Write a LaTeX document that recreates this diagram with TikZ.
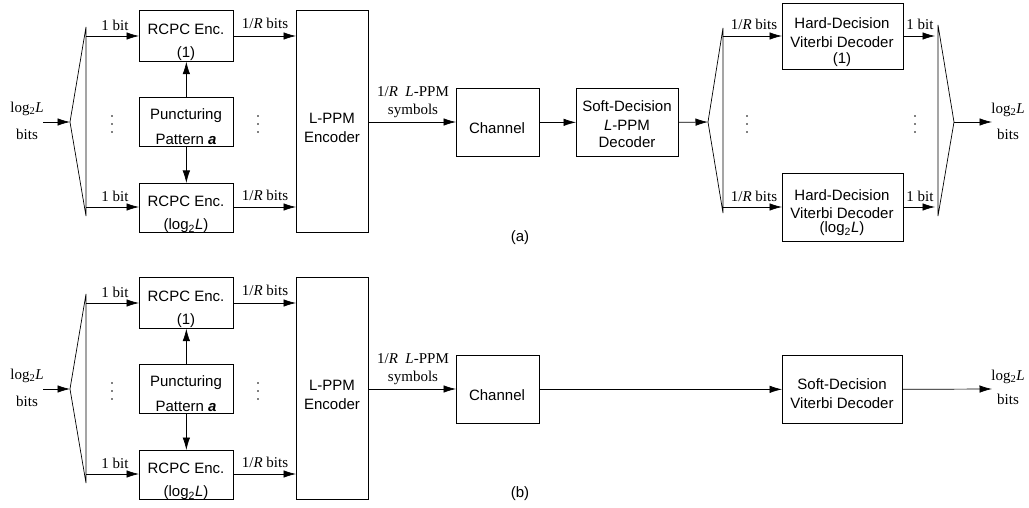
\documentclass[tikz,border=0pt]{standalone}
\usepackage{fontspec}
\setmainfont{Liberation Serif}
\newfontfamily\arialf{Liberation Sans}
\usetikzlibrary{arrows.meta}
\tikzset{
  box/.style={draw, line width=0.7pt, inner sep=0pt, anchor=north west},
  sf/.style={font=\arialf\fontsize{15}{18}\selectfont, inner sep=0pt, anchor=center},
  rm/.style={font=\fontsize{15}{18}\selectfont, inner sep=0pt, anchor=center},
  arr/.style={line width=0.7pt, -{Latex[length=12.5pt,width=7.5pt]}},
  ln/.style={line width=0.7pt},
  dotc/.style={fill, circle, inner sep=0pt, minimum size=1.8pt}
}
\newcommand\mkbox[5]{% name, x1, y1, x2, y2
  \node[box, minimum width={(#4)-(#2)}, minimum height={(#5)-(#3)}] (#1) at (#2,{#3}) {};}
\newcommand\vdotsat[3]{% name, x, y
  \node[dotc] (#1a) at (#2,{#3-8}) {};
  \node[dotc] (#1b) at (#2,{#3}) {};
  \node[dotc] (#1c) at (#2,{#3+8}) {};}
\newcommand\leftpart[2]{% prefix, y offset
  % input and splitter
  \coordinate (#1in) at (43,{#2+122});
  \coordinate (#1apex) at (70,{#2+122});
  \coordinate (#1st) at (86,{#2+27});
  \coordinate (#1sb) at (86,{#2+216});
  \coordinate (#1b1) at (86,{#2+36});
  \coordinate (#1b2) at (86,{#2+207});
  \node[rm] (#1inl1) at (27,{#2+109}) {log\textsubscript{2}\textit{L}};
  \node[rm] (#1inl2) at (27,{#2+134}) {bits};
  \draw[arr] (#1in) -- (#1apex);
  \draw[ln] (#1st) -- (#1apex) -- (#1sb) -- cycle;
  % boxes
  \mkbox{#1rc1}{139}{#2+10}{233}{#2+61}
  \mkbox{#1pp}{139}{#2+97}{233}{#2+146}
  \mkbox{#1rc2}{139}{#2+183}{233}{#2+232}
  \mkbox{#1lppm}{296}{#2+10}{368}{#2+232}
  \node[sf] (#1rc1t1) at (186,{#2+29}) {RCPC Enc.};
  \node[sf] (#1rc1t2) at (186,{#2+54}) {(1)};
  \node[sf] (#1ppt1) at (186,{#2+116}) {Puncturing};
  \node[sf] (#1ppt2) at (186,{#2+139}) {Pattern \textbf{\textit{a}}};
  \node[sf] (#1rc2t1) at (186,{#2+201}) {RCPC Enc.};
  \node[sf] (#1rc2t2) at (186,{#2+226}) {(log\textsubscript{2}\textit{L})};
  \node[sf] (#1lppmt1) at (332,{#2+118}) {L-PPM};
  \node[sf] (#1lppmt2) at (332,{#2+137}) {Encoder};
  % branches
  \draw[arr] (#1b1) -- (#1b1 -| #1rc1.west);
  \draw[arr] (#1b2) -- (#1b2 -| #1rc2.west);
  \node[rm] (#1l1) at (115,{#2+25}) {1 bit};
  \node[rm] (#1l2) at (115,{#2+196}) {1 bit};
  \draw[arr] (#1b1 -| #1rc1.east) -- (#1b1 -| #1lppm.west);
  \draw[arr] (#1b2 -| #1rc2.east) -- (#1b2 -| #1lppm.west);
  \node[rm] (#1r1) at (265,{#2+23}) {1/\textit{R} bits};
  \node[rm] (#1r2) at (265,{#2+195}) {1/\textit{R} bits};
  \draw[arr] (#1pp.north) -- (#1rc1.south);
  \draw[arr] (#1pp.south) -- (#1rc2.north);
  \vdotsat{#1da}{112}{#2+124}
  \vdotsat{#1db}{258}{#2+124}
  % channel
  \mkbox{#1ch}{456}{#2+88}{539}{#2+156}
  \node[sf] (#1cht) at (497,{#2+128}) {Channel};
  \coordinate (#1lo) at (368,{#2+122});
  \draw[arr] (#1lo) -- (#1lo -| #1ch.west);
  \node[rm] (#1sy1) at (413,{#2+92}) {1/\textit{R}\ \ \textit{L}-PPM};
  \node[rm] (#1sy2) at (413,{#2+111}) {symbols};
}
\begin{document}
\begin{tikzpicture}[x=1pt,y=-1pt]
\useasboundingbox (0,0) rectangle (1029,508);
\fill[white] (0,0) rectangle (1029,508);

% ---------------- (a) ----------------
\leftpart{a}{0}
\mkbox{asd}{576}{88}{678}{156}
\node[sf] (asdt1) at (627,106) {Soft-Decision};
\node[sf] (asdt2) at (627,125) {\textit{L}-PPM};
\node[sf] (asdt3) at (627,142) {Decoder};
\draw[arr] (ach.east) -- (asd.west);
\coordinate (rapex) at (708,122);
\coordinate (rst) at (723,28);
\coordinate (rsb) at (723,213);
\coordinate (rb1) at (723,36);
\coordinate (rb2) at (723,207);
\draw[arr] (asd.east) -- (rapex);
\draw[ln] (rst) -- (rapex) -- (rsb) -- cycle;
\mkbox{hd1}{782}{3}{903}{69}
\mkbox{hd2}{782}{173}{903}{241}
\node[sf] (hd1t1) at (842,23) {Hard-Decision};
\node[sf] (hd1t2) at (842,42) {Viterbi Decoder};
\node[sf] (hd1t3) at (842,60) {(1)};
\node[sf] (hd2t1) at (842,195) {Hard-Decision};
\node[sf] (hd2t2) at (842,213) {Viterbi Decoder};
\node[sf] (hd2t3) at (842,229) {(log\textsubscript{2}\textit{L})};
\draw[arr] (rb1) -- (rb1 -| hd1.west);
\draw[arr] (rb2) -- (rb2 -| hd2.west);
\node[rm] (rl1) at (754,24) {1/\textit{R} bits};
\node[rm] (rl2) at (754,196) {1/\textit{R} bits};
\coordinate (cm1) at (935,36);
\coordinate (cm2) at (935,207);
\draw[arr] (rb1 -| hd1.east) -- (cm1);
\draw[arr] (rb2 -| hd2.east) -- (cm2);
\node[rm] (ol1) at (920,24) {1 bit};
\node[rm] (ol2) at (920,196) {1 bit};
\coordinate (cst) at (938,25);
\coordinate (csb) at (938,216);
\coordinate (capex) at (954,122);
\draw[ln] (cst) -- (capex) -- (csb) -- cycle;
\coordinate (aout) at (992,122);
\draw[arr] (capex) -- (aout);
\node[rm] (aoutl1) at (1008,110) {log\textsubscript{2}\textit{L}};
\node[rm] (aoutl2) at (1008,134) {bits};
\vdotsat{rda}{747}{124}
\vdotsat{rdb}{915}{124}
\node[sf] (capa) at (520,238) {(a)};

% ---------------- (b) ----------------
\leftpart{b}{267}
\mkbox{sdv}{782}{355}{902}{423}
\node[sf] (sdvt1) at (842,384) {Soft-Decision};
\node[sf] (sdvt2) at (842,403) {Viterbi Decoder};
\draw[arr] (bch.east) -- (sdv.west);
\coordinate (bout) at (992,389);
\draw[arr] (sdv.east) -- (bout);
\node[rm] (boutl1) at (1008,377) {log\textsubscript{2}\textit{L}};
\node[rm] (boutl2) at (1008,399) {bits};
\node[sf] (capb) at (520,494) {(b)};
\end{tikzpicture}
\end{document}
